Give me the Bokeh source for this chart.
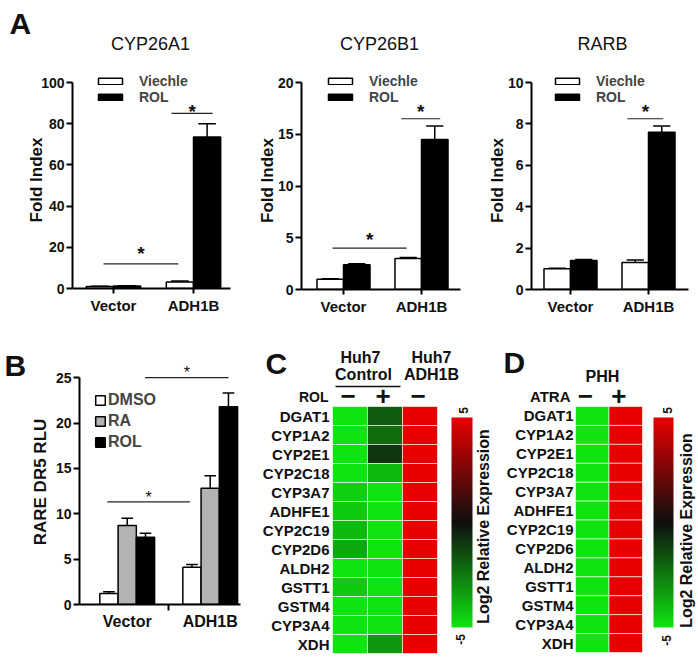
import numpy as np
from bokeh.plotting import figure
from bokeh.models import (Range1d, FixedTicker, Legend, LegendItem,
                          LinearColorMapper, ColumnDataSource)
from bokeh.layouts import row, column
from bokeh.embed import file_html
from bokeh.resources import INLINE
from bokeh.core.properties import value
from bokeh.transform import linear_cmap

# ---------------- data ----------------
groups = ["Vector", "ADH1B"]
a_series = ["Viechle", "ROL"]
a_titles = ["CYP26A1", "CYP26B1", "RARB"]
panel_letters = ["A", "B", "C", "D"]

cyp26a1_veh = [1.0, 3.2]
cyp26a1_veh_err = [0.1, 0.4]
cyp26a1_rol = [1.2, 73.5]
cyp26a1_rol_err = [0.15, 6.5]
cyp26a1_yticks = [0, 20, 40, 60, 80, 100]
cyp26a1_sig_x0 = [0.875, 1.725]
cyp26a1_sig_x1 = [1.81, 2.24]
cyp26a1_sig_y = [12.0, 85.0]
cyp26a1_star_y = [18.9, 87.9]

cyp26b1_veh = [1.0, 3.0]
cyp26b1_veh_err = [0.05, 0.08]
cyp26b1_rol = [2.4, 14.5]
cyp26b1_rol_err = [0.1, 1.3]
cyp26b1_yticks = [0, 5, 10, 15, 20]
cyp26b1_sig_x0 = [0.86, 1.74]
cyp26b1_sig_x1 = [1.81, 2.24]
cyp26b1_sig_y = [4.0, 16.5]
cyp26b1_star_y = [5.2, 17.6]

rarb_veh = [1.0, 1.3]
rarb_veh_err = [0.03, 0.12]
rarb_rol = [1.4, 7.6]
rarb_rol_err = [0.05, 0.3]
rarb_yticks = [0, 2, 4, 6, 8, 10]
rarb_sig_x0 = [1.73]
rarb_sig_x1 = [2.19]
rarb_sig_y = [8.25]
rarb_star_y = [8.8]

b_series = ["DMSO", "RA", "ROL"]
rare_dmso = [1.2, 4.1]
rare_dmso_err = [0.2, 0.3]
rare_ra = [8.7, 12.8]
rare_ra_err = [0.8, 1.4]
rare_rol = [7.4, 21.8]
rare_rol_err = [0.45, 1.5]
rare_yticks = [0, 5, 10, 15, 20, 25]
rare_sig_x0 = [0.76, 1.215]
rare_sig_x1 = [1.755, 2.22]
rare_sig_y = [11.3, 25.0]
rare_star_y = [12.2, 26.0]

genes = ["DGAT1", "CYP1A2", "CYP2E1", "CYP2C18", "CYP3A7", "ADHFE1", "CYP2C19",
         "CYP2D6", "ALDH2", "GSTT1", "GSTM4", "CYP3A4", "XDH"]
huh7_ctrl_minus = [-5.0, -5.0, -5.0, -5.0, -4.5, -4.4, -4.0, -3.6, -5.0, -4.4, -5.0, -5.0, -5.0]
huh7_ctrl_plus = [-1.8, -2.2, -0.9, -4.0, -5.0, -5.0, -5.0, -5.0, -5.0, -5.0, -5.0, -5.0, -3.2]
huh7_adh1b_minus = [5.0, 5.0, 5.0, 5.0, 5.0, 5.0, 5.0, 5.0, 5.0, 5.0, 5.0, 5.0, 5.0]
c_group_top = ["Huh7", "Huh7"]
c_group_bottom = ["Control", "ADH1B"]
c_rol_signs = ["\u2212", "+", "\u2212"]

phh_minus = [-5.0, -5.0, -5.0, -5.0, -5.0, -5.0, -5.0, -5.0, -5.0, -5.0, -5.0, -5.0, -5.0]
phh_plus = [5.0, 5.0, 5.0, 5.0, 5.0, 5.0, 5.0, 5.0, 5.0, 5.0, 5.0, 5.0, 5.0]
d_atra_signs = ["\u2212", "+"]
cbar_title = "Log2 Relative Expression"

# ---------------- style helpers ----------------
FONT = "Liberation Sans"
INK = "#111111"


def make_palette(n=256):
    out = []
    for t in np.linspace(0, 1, n):
        if t < 0.5:
            f = 1 - t / 0.5
            r, g, b = 15, 228 * f + 15 * (1 - f), 15
        else:
            f = (t - 0.5) / 0.5
            r, g, b = 232 * f + 15 * (1 - f), 15 * (1 - f), 15 * (1 - f)
        out.append("#%02x%02x%02x" % (int(r), int(g), int(b)))
    return out


PALETTE = make_palette()


def base_fig(W, H, xr, yr, borders):
    left, top, right, bottom = borders
    p = figure(width=int(W), height=int(H), x_range=Range1d(*xr), y_range=Range1d(*yr),
               min_border=0, min_border_left=int(left), min_border_top=int(top),
               min_border_right=int(right), min_border_bottom=int(bottom),
               output_backend="svg", toolbar_location=None, title=None, frame_align=False)
    p.grid.visible = False
    p.outline_line_color = None
    p.background_fill_color = "white"
    p.border_fill_color = "white"
    return p


def bar_fig(canvas, frame, xr, yr):
    cx0, cy0, cx1, cy1 = canvas
    fx0, fy0, fx1, fy1 = frame
    W, H = round(cx1 - cx0), round(cy1 - cy0)
    left, top = round(fx0 - cx0), round(fy0 - cy0)
    fw, fh = round(fx1 - fx0), round(fy1 - fy0)
    p = base_fig(W, H, xr, yr, (left, top, W - left - fw, H - top - fh))
    for ax in (p.xaxis[0], p.yaxis[0]):
        ax.axis_line_width = 2
        ax.major_tick_line_width = 2
        ax.major_tick_in = 0
        ax.minor_tick_line_color = None
        ax.major_label_text_font = FONT
        ax.major_label_text_font_style = "bold"
        ax.major_label_text_color = INK
        ax.axis_label_text_font = FONT
        ax.axis_label_text_font_style = "bold"
        ax.axis_label_text_color = INK
    return p


def err_bars(p, xs, m, e, cap):
    m = np.asarray(m, float)
    e = np.asarray(e, float)
    p.segment(x0=xs, y0=m, x1=xs, y1=m + e, line_color="black", line_width=1.5)
    p.segment(x0=xs - cap, y0=m + e, x1=xs + cap, y1=m + e, line_color="black", line_width=1.5)


def sig_marks(p, x0, x1, y, sy, size, style):
    x0 = np.asarray(x0, float)
    x1 = np.asarray(x1, float)
    p.segment(x0=x0, y0=y, x1=x1, y1=y, line_color="#222222", line_width=1.2)
    p.text(x=(x0 + x1) / 2, y=sy, text=["*"] * len(x0), text_align="center",
           text_baseline="middle", y_offset=round(0.22 * size),
           text_font=value(FONT), text_font_size=f"{size}px", text_font_style=style,
           text_color=INK)


def txt(p, x, y, t, size, align="center", baseline="middle", angle=0.0, style="bold",
        x_offset=0):
    p.text(x=[x], y=[y], text=[t], text_align=align, text_baseline=baseline, angle=angle,
           text_font=value(FONT), text_font_size=f"{size}px", text_font_style=style,
           text_color=INK, x_offset=x_offset)


# ---------------- top strip: panel letter + titles ----------------
TOP_H = 60
strip_top = base_fig(697, TOP_H, (0, 697), (TOP_H, 0), (0, 0, 0, 0))
strip_top.xaxis.visible = False
strip_top.yaxis.visible = False
txt(strip_top, 9, 23, panel_letters[0], 30, align="left")
for t, cx in zip(a_titles, [150, 379, 602]):
    txt(strip_top, cx, 43.5, t, 18, style="normal")


# ---------------- panel A ----------------
def a_panel(canvas, axis_x, x_right, xr, veh, veh_err, rol, rol_err, yticks,
            sx0, sx1, sy, stary, leg_dx, label_standoff):
    tick_top, ftop = 82, 71
    fy1 = 288 if canvas[0] == 0 else 289
    ytop = yticks[-1]
    yend = ytop + (tick_top - ftop) / (fy1 - tick_top) * ytop
    p = bar_fig(canvas, (axis_x, ftop, x_right, fy1), xr, (0, yend))
    xi = np.arange(1, len(groups) + 1, dtype=float)
    xv, xrl = xi - 0.17, xi + 0.17
    rv = p.vbar(x=xv, top=veh, width=0.34, fill_color="white", line_color="black", line_width=1.5)
    rr = p.vbar(x=xrl, top=rol, width=0.34, fill_color="black", line_color="black", line_width=1.5)
    err_bars(p, xv, veh, veh_err, 0.11)
    err_bars(p, xrl, rol, rol_err, 0.11)
    sig_marks(p, sx0, sx1, sy, stary, 19, "bold")

    p.yaxis.ticker = FixedTicker(ticks=yticks)
    p.yaxis.bounds = (0, ytop)
    p.yaxis.major_tick_out = 6
    p.yaxis.major_label_text_font_size = "14px"
    p.yaxis.major_label_standoff = 2
    p.yaxis.axis_label = "Fold Index"
    p.yaxis.axis_label_text_font_size = "17px"
    p.yaxis.axis_label_standoff = label_standoff
    p.xaxis.ticker = FixedTicker(ticks=list(xi))
    p.xaxis.major_label_overrides = {int(i): g for i, g in zip(xi, groups)}
    p.xaxis.major_tick_out = 5
    p.xaxis.major_label_text_font_size = "15px"
    p.xaxis.major_label_standoff = 3

    leg = Legend(items=[LegendItem(label=a_series[0], renderers=[rv]),
                        LegendItem(label=a_series[1], renderers=[rr])],
                 location=(leg_dx, fy1 - 105),
                 glyph_width=30, glyph_height=8, label_standoff=14, spacing=0,
                 padding=0, margin=0, border_line_color=None, background_fill_alpha=0,
                 label_text_font=FONT, label_text_font_style="bold",
                 label_text_font_size="14px", label_height=8)
    p.add_layout(leg)
    return p


a1 = a_panel((0, TOP_H, 232, 325), 72, 230, (0.4875, 2.4625),
             cyp26a1_veh, cyp26a1_veh_err, cyp26a1_rol, cyp26a1_rol_err, cyp26a1_yticks,
             cyp26a1_sig_x0, cyp26a1_sig_x1, cyp26a1_sig_y, cyp26a1_star_y, 23, -8)
a2 = a_panel((232, TOP_H, 462, 325), 301, 460, (0.4615, 2.5),
             cyp26b1_veh, cyp26b1_veh_err, cyp26b1_rol, cyp26b1_rol_err, cyp26b1_yticks,
             cyp26b1_sig_x0, cyp26b1_sig_x1, cyp26b1_sig_y, cyp26b1_star_y, 24, -2)
a3 = a_panel((462, TOP_H, 697, 325), 531, 688, (0.5, 2.513),
             rarb_veh, rarb_veh_err, rarb_rol, rarb_rol_err, rarb_yticks,
             rarb_sig_x0, rarb_sig_x1, rarb_sig_y, rarb_star_y, 21, -2)

# ---------------- panel B ----------------
BOT0, BOT1 = 325, 661
SB = 27
strip_b = base_fig(SB, BOT1 - BOT0, (0, SB), (BOT1, BOT0), (0, 0, 0, 0))
strip_b.xaxis.visible = False
strip_b.yaxis.visible = False
txt(strip_b, 4, 365, panel_letters[1], 30, align="left")

b_top = 604 - 27 * 227 / 25
pb = bar_fig((SB, BOT0, 243, BOT1), (78, b_top, 240, 604), (0.425, 2.365), (0, 27))
xi = np.arange(1, len(groups) + 1, dtype=float)
b_vals = [(rare_dmso, rare_dmso_err), (rare_ra, rare_ra_err), (rare_rol, rare_rol_err)]
b_colors = ["white", "#b3b3b3", "black"]
b_offsets = [-0.22, 0.0, 0.22]
b_rend = []
for (m, e), c, off in zip(b_vals, b_colors, b_offsets):
    r = pb.vbar(x=xi + off, top=m, width=0.22, fill_color=c, line_color="black", line_width=1.5)
    b_rend.append(r)
    err_bars(pb, xi + off, m, e, 0.07)
sig_marks(pb, rare_sig_x0, rare_sig_x1, rare_sig_y, rare_star_y, 16, "normal")
pb.yaxis.ticker = FixedTicker(ticks=rare_yticks)
pb.yaxis.bounds = (0, rare_yticks[-1])
pb.yaxis.major_tick_out = 6
pb.yaxis.major_label_text_font_size = "14px"
pb.yaxis.major_label_standoff = 2
pb.yaxis.axis_label = "RARE DR5 RLU"
pb.yaxis.axis_label_text_font_size = "17px"
pb.yaxis.axis_label_standoff = 3
pb.xaxis.ticker = FixedTicker(ticks=list(xi), minor_ticks=[1.5])
pb.xaxis.major_label_overrides = {int(i): g for i, g in zip(xi, groups)}
pb.xaxis.major_tick_out = 0
pb.xaxis.minor_tick_out = 6
pb.xaxis.minor_tick_in = 0
pb.xaxis.minor_tick_line_color = "black"
pb.xaxis.minor_tick_line_width = 2
pb.xaxis.major_label_text_font_size = "16px"
pb.xaxis.major_label_standoff = 2
legb = Legend(items=[LegendItem(label=s, renderers=[r]) for s, r in zip(b_series, b_rend)],
              location=(15, 153), glyph_width=12, glyph_height=12, label_standoff=2,
              spacing=3, padding=0, margin=0, border_line_color=None, background_fill_alpha=0,
              label_text_font=FONT, label_text_font_style="bold", label_text_font_size="16px")
pb.add_layout(legb)


# ---------------- heatmaps ----------------
def heat_fig(canvas, cells, ncols):
    cx0, cy0, cx1, cy1 = canvas
    x0, y0, x1, y1 = cells
    cw = (x1 - x0) / ncols
    rh = (y1 - y0) / len(genes)
    n = len(genes)

    def X(px):
        return (px - x0) / cw - 0.5

    def Y(py):
        return (n - 0.5) - (py - y0) / rh
    p = base_fig(cx1 - cx0, cy1 - cy0, (X(cx0), X(cx1)), (Y(cy1), Y(cy0)), (0, 0, 0, 0))
    p.xaxis.visible = False
    p.yaxis.visible = False
    return p, X, Y


def draw_cells(p, columns):
    n = len(genes)
    xs, ys, vs = [], [], []
    for j, col in enumerate(columns):
        for i, v in enumerate(col):
            xs.append(j)
            ys.append(n - 1 - i)
            vs.append(v)
    src = ColumnDataSource(dict(x=xs, y=ys, v=vs))
    p.rect(x="x", y="y", width=1, height=1, source=src,
           fill_color=linear_cmap("v", PALETTE, -5, 5), line_color="white",
           line_alpha=0.6, line_width=1)


def gene_labels(p, X, xr_edge):
    n = len(genes)
    p.text(x=[X(xr_edge)] * n, y=list(range(n - 1, -1, -1)), text=genes, text_align="right",
           text_baseline="middle", text_font=value(FONT), text_font_size="15px",
           text_font_style="bold", text_color=INK)


def color_bar(p, X, Y, bx0, bx1, by0, by1):
    mapper = LinearColorMapper(palette=PALETTE, low=-5, high=5)
    grad = np.linspace(-5, 5, 256).reshape(-1, 1)
    p.image(image=[grad], x=X(bx0), y=Y(by1), dw=X(bx1) - X(bx0), dh=Y(by0) - Y(by1),
            color_mapper=mapper)


# C
pc, CX, CY = heat_fig((243, BOT0, 493, BOT1), (332, 406, 437, 653), 3)
draw_cells(pc, [huh7_ctrl_minus, huh7_ctrl_plus, huh7_adh1b_minus])
gene_labels(pc, CX, 329)
txt(pc, CX(265), CY(362.5), panel_letters[2], 30, align="left")
txt(pc, CX(360), CY(356.5), c_group_top[0], 16)
txt(pc, CX(363), CY(374), c_group_bottom[0], 16)
txt(pc, CX(431), CY(356.5), c_group_top[1], 16)
txt(pc, CX(431), CY(374), c_group_bottom[1], 16)
pc.segment(x0=[CX(335)], y0=[CY(386)], x1=[CX(400)], y1=[CY(386)], line_color=INK,
           line_width=1.5)
txt(pc, CX(328), CY(396.5), "ROL", 14, align="right")
for j, s in enumerate(c_rol_signs):
    txt(pc, j, CY(395), s, 26, x_offset=-2)
color_bar(pc, CX, CY, 451, 472, 417, 627)
txt(pc, CX(463), CY(410), "5", 12, angle=np.pi / 2)
txt(pc, CX(460), CY(639), "-5", 12, angle=np.pi / 2)
txt(pc, CX(483), CY(526), cbar_title, 16, angle=np.pi / 2)

# D
pd_, DX, DY = heat_fig((493, BOT0, 697, BOT1), (575, 406, 642, 652), 2)
draw_cells(pd_, [phh_minus, phh_plus])
gene_labels(pd_, DX, 573)
txt(pd_, DX(503), DY(362), panel_letters[3], 30, align="left")
txt(pd_, DX(602), DY(376), "PHH", 16)
txt(pd_, DX(570), DY(395.5), "ATRA", 15, align="right")
for j, s in enumerate(d_atra_signs):
    txt(pd_, j, DY(395), s, 26, x_offset=-7)
color_bar(pd_, DX, DY, 653, 673, 417, 627)
txt(pd_, DX(667), DY(410), "5", 12, angle=np.pi / 2)
txt(pd_, DX(666), DY(640), "-5", 12, angle=np.pi / 2)
txt(pd_, DX(686), DY(530), cbar_title, 16, angle=np.pi / 2)

layout = column(strip_top, row(a1, a2, a3), row(strip_b, pb, pc, pd_))
open("out.html", "w").write(file_html(layout, INLINE))
